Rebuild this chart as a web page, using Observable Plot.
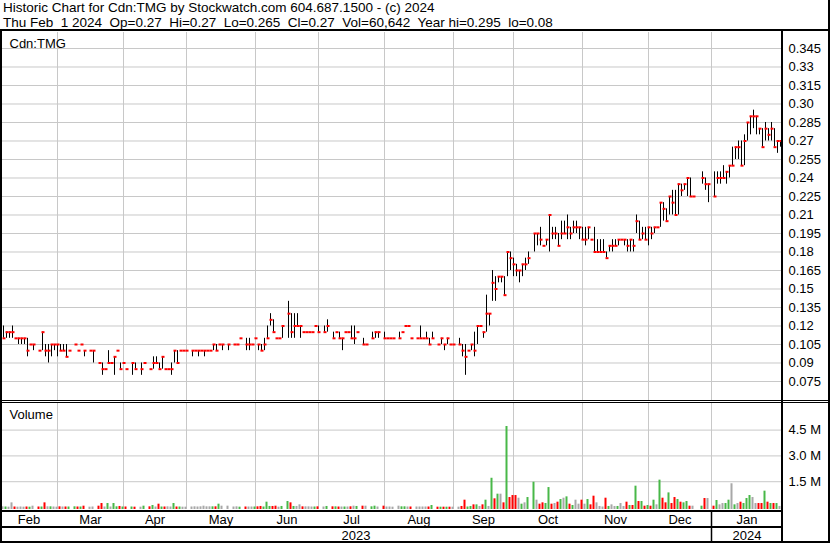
<!DOCTYPE html>
<html><head><meta charset="utf-8">
<script src="https://cdn.jsdelivr.net/npm/d3@7"></script>
<script src="https://cdn.jsdelivr.net/npm/@observablehq/plot@0.6"></script>
<style>
body{margin:0;background:#fff;}
#chart{position:relative;width:830px;height:543px;background:#fff;font-family:"Liberation Sans",Arial,sans-serif;color:#000;overflow:hidden;}
.hdr{position:absolute;left:3px;font-size:13.5px;line-height:15px;white-space:pre;}
.ln{position:absolute;background:#000;}
.panel{position:absolute;left:0;}
</style></head><body><div id="chart">
<div class="hdr" style="top:0px">Historic Chart for Cdn:TMG by Stockwatch.com 604.687.1500 - (c) 2024</div>
<div class="hdr" style="top:15px">Thu Feb  1 2024  Op=0.27  Hi=0.27  Lo=0.265  Cl=0.27  Vol=60,642  Year hi=0.295  lo=0.08</div>
</div>
<script>
// one entry per weekday, index 0 = Wed Feb 1 2023 ... index 261 = Thu Feb 1 2024 (null = no trade)
const high = [
 null,null,.12,.115,.115,.12,.11,.11,.11,.11,.11,.105,.105,null,.10,.115,.105,.105,.105,.105,
 .105,.105,.105,.105,.10,null,.105,.10,.105,.10,null,.10,.10,null,.09,.09,.085,.10,.09,.095,.10,.09,.09,
 .085,null,.09,.09,null,.09,.09,null,.085,.095,.095,.09,.095,.085,.085,.09,.10,.10,.10,.10,
 .10,null,.10,.10,.10,.10,.10,.10,.10,.105,.105,.105,.105,null,.105,null,.105,.105,.11,null,.11,.11,.105,
 .11,.105,.105,.11,.12,.13,.125,.11,.11,.12,null,.14,.13,.13,.13,.12,.115,.115,.115,.115,.12,.12,
 null,.12,.125,null,.115,.115,.115,.11,.115,.115,.12,.12,.115,null,.11,.105,null,.115,.115,.115,null,
 .115,.11,.11,.11,null,.115,.115,.12,.12,.11,null,.11,.12,.11,.115,.11,.115,null,.105,.11,.105,.11,.105,
 .105,null,.11,.105,.105,.10,.105,.115,.12,.12,.115,.145,.13,.165,.16,.16,.16,.16,.18,.18,.175,
 .17,.165,.17,.175,.18,null,.195,.195,.20,.185,.19,.21,.20,.20,.195,.205,.205,.21,.20,.205,.205,.20,
 .20,.20,.20,.19,.20,.19,.19,.19,.18,.185,.19,.19,.19,.19,.19,.19,.19,.19,.21,.205,.20,.20,
 .20,.20,.20,.20,.22,.22,.215,.225,.23,.23,.235,.235,.235,.24,.24,.225,null,null,.245,.24,.235,
 null,.245,.245,.245,.25,.245,.25,.265,.265,.27,.27,.275,.285,.29,.295,.29,.28,.28,.285,.28,.285,.28,.27,.27
];
const low = [
 null,null,.11,.11,.11,.11,.11,.105,.105,.105,.095,.105,.10,null,.10,.10,.095,.09,.095,.10,
 .095,.10,.10,.095,.10,null,.105,.10,.105,.095,null,.10,.09,null,.09,.08,.085,.09,.09,.08,.10,.085,.09,
 .085,null,.08,.085,null,.08,.09,null,.085,.085,.09,.085,.085,.085,.085,.08,.09,.09,.10,.10,
 .10,null,.095,.10,.095,.10,.095,.10,.10,.10,.10,.105,.10,null,.10,null,.105,.105,.11,null,.10,.10,.105,
 .11,.10,.10,.10,.11,.12,.115,.11,.11,.11,null,.11,.11,.11,.12,.11,.115,.115,.115,.115,.12,.115,
 null,.115,.115,null,.11,.115,.11,.10,.115,.115,.11,.105,.115,null,.105,.105,null,.11,.11,.11,null,
 .11,.11,.11,.11,null,.11,.115,.12,.12,.11,null,.11,.11,.11,.11,.105,.11,null,.105,.105,.10,.105,.105,
 .105,null,.105,.095,.08,.10,.10,.095,.105,.12,.11,.115,.12,.14,.14,.155,.155,.145,.16,.165,.16,
 .16,.155,.16,.165,.17,null,.18,.185,.185,.185,.185,.18,.19,.19,.185,.19,.195,.19,.19,.195,.195,.19,
 .19,.185,.19,.19,.18,.18,.18,.18,.175,.18,.18,.185,.185,.19,.185,.18,.18,.18,.195,.19,.19,.19,
 .185,.19,.195,.20,.20,.205,.205,.21,.21,.21,.21,.225,.23,.225,.225,.225,null,null,.235,.23,.22,
 null,.225,.235,.235,.24,.235,.24,.25,.255,.255,.25,.25,.27,.275,.28,.275,.275,.265,.27,.27,.27,.265,.26,.265
];
const close = [
 null,null,.11,.115,.115,.115,.11,.11,.11,.11,.10,.105,.105,null,.10,.115,.10,.10,.105,.105,
 .105,.10,.10,.095,.10,null,.105,.10,.105,.10,null,.10,.10,null,.09,.085,.085,.09,.09,.095,.10,.085,.09,
 .085,null,.09,.085,null,.085,.09,null,.085,.09,.09,.085,.095,.085,.085,.085,.10,.09,.10,.10,
 .10,null,.10,.10,.10,.10,.10,.10,.10,.105,.10,.105,.105,null,.105,null,.105,.105,.11,null,.105,.105,.105,
 .11,.105,.10,.105,.11,.125,.115,.11,.11,.12,null,.13,.115,.12,.12,.12,.115,.115,.115,.115,.12,.115,
 null,.115,.12,null,.11,.115,.11,.11,.115,.115,.11,.11,.115,null,.105,.105,null,.11,.115,.115,null,
 .11,.11,.11,.11,null,.11,.115,.12,.12,.11,null,.11,.11,.11,.11,.105,.11,null,.105,.11,.105,.11,.105,
 .105,null,.105,.10,.095,.10,.105,.10,.12,.12,.115,.13,.13,.155,.15,.16,.16,.145,.18,.175,.17,
 .165,.165,.17,.17,.175,null,.195,.195,.19,.185,.19,.21,.195,.195,.185,.195,.195,.20,.195,.20,.20,.20,
 .19,.19,.20,.19,.18,.18,.18,.18,.175,.185,.185,.185,.19,.19,.19,.185,.19,.185,.205,.19,.195,.19,
 .20,.195,.20,.20,.22,.215,.205,.225,.22,.21,.235,.23,.235,.24,.225,.225,null,null,.24,.235,.235,
 null,.225,.24,.24,.24,.245,.25,.25,.265,.265,.25,.27,.285,.29,.29,.29,.28,.265,.28,.275,.28,.265,.27,.27
];
// volume in thousands of shares
const volumeK = [
 null,null,40,30,20,270,30,20,30,20,30,20,77,null,30,30,270,40,40,30,
 20,40,30,30,30,null,40,30,30,77,null,20,30,null,77,232,30,232,30,232,40,60,30,
 30,null,30,20,null,20,77,null,40,116,30,193,30,30,40,30,232,30,30,20,
 20,null,30,40,30,40,77,40,40,40,40,193,77,null,77,null,30,40,20,null,30,30,30,
 30,40,60,30,310,60,60,77,20,60,null,348,271,60,60,155,40,40,40,30,30,40,
 null,30,60,null,40,40,30,30,30,30,40,77,60,null,77,77,null,40,77,30,null,
 77,30,30,20,null,77,40,40,30,30,null,30,30,30,30,30,116,null,20,20,20,20,20,
 20,null,20,60,426,30,60,155,155,60,155,426,60,1700,505,775,775,271,4710,580,696,
 696,541,193,271,580,null,1470,426,193,271,232,1160,193,232,310,464,541,619,193,116,426,193,
 426,193,464,155,658,271,60,30,541,60,155,60,60,232,60,310,116,116,1240,348,348,77,
 116,77,426,155,1590,541,271,850,232,580,464,310,271,348,77,77,null,null,77,523,523,
 null,77,407,155,232,232,426,1380,155,232,310,232,523,698,581,232,232,232,950,310,232,232,232,61
];
const monthStartIdx = [20, 42, 63, 86, 107, 129, 152, 172, 195, 217, 238];
const monthNames = ["Feb","Mar","Apr","May","Jun","Jul","Aug","Sep","Oct","Nov","Dec","Jan"];
const yearStartIdx = [238];
const yearNames = ["2023","2024"];
const priceTicks = [0.075,0.09,0.105,0.12,0.135,0.15,0.165,0.18,0.195,0.21,0.225,0.24,0.255,0.27,0.285,0.30,0.315,0.33,0.345];
const priceTickLabels = ["0.075","0.09","0.105","0.12","0.135","0.15","0.165","0.18","0.195","0.21","0.225","0.24","0.255","0.27","0.285","0.30","0.315","0.33","0.345"];
const volTicks = [1500000, 3000000, 4500000];
const volTickLabels = ["1.5 M","3.0 M","4.5 M"];

const FONT = '"Liberation Sans", Arial, sans-serif';
const GRID = "#c8c8c8";
const xDomain = [1, 1 + 782/3];

const bars = [];
let prev = null;
for (let i = 0; i < close.length; i++) {
  if (close[i] == null) continue;
  const dir = prev == null ? 0 : Math.sign(Math.round((close[i] - prev) * 1000));
  bars.push({i, high: high[i], low: low[i], close: close[i], volume: volumeK[i] * 1000, dir});
  prev = close[i];
}
const dirColor = {"-1": "#ff0000", "0": "#a8a8a8", "1": "#48b848"};

const chart = document.getElementById("chart");
function place(svg, top) {
  const d = document.createElement("div");
  d.className = "panel"; d.style.top = top + "px";
  d.appendChild(svg); chart.appendChild(d);
}
function line(l, t, w, h) {
  const d = document.createElement("div");
  d.className = "ln";
  Object.assign(d.style, {left: l + "px", top: t + "px", width: w + "px", height: h + "px"});
  chart.appendChild(d);
}

const priceChart = Plot.plot({
  width: 830, height: 368, marginLeft: 0, marginRight: 48, marginTop: 0, marginBottom: 0,
  style: {background: "transparent", fontFamily: FONT, fontSize: "13px", color: "#000", overflow: "visible"},
  x: {domain: xDomain, axis: null},
  y: {domain: [0.05959, 0.35797], label: null},
  marks: [
    Plot.ruleY(priceTicks, {stroke: GRID}),
    Plot.ruleX(monthStartIdx, {stroke: GRID}),
    Plot.axisY(priceTicks, {anchor: "right", tickSize: 0, tickPadding: 6, label: null, fontSize: 13,
      tickFormat: d => priceTickLabels[priceTicks.indexOf(d)]}),
    Plot.ruleX(bars.filter(d => d.high > d.low), {x: "i", y1: "low", y2: "high", stroke: "#000", strokeWidth: 1}),
    Plot.ruleY(bars, {y: "close", x1: d => d.i - 1/6, x2: d => d.i + 5/6, stroke: "#ff0000", strokeWidth: 2}),
    Plot.text(["Cdn:TMG"], {frameAnchor: "top-left", lineAnchor: "bottom", dx: 9, dy: 15, fontSize: 13, fill: "#000"})
  ]
});

const volMin = -116000;
const volumeChart = Plot.plot({
  width: 830, height: 106, marginLeft: 0, marginRight: 48, marginTop: 0, marginBottom: 0,
  style: {background: "transparent", fontFamily: FONT, fontSize: "13px", color: "#000", overflow: "visible"},
  x: {domain: xDomain, axis: null},
  y: {domain: [volMin, 6047000], label: null},
  marks: [
    Plot.ruleY(volTicks, {stroke: GRID}),
    Plot.ruleX(monthStartIdx, {stroke: GRID}),
    Plot.axisY(volTicks, {anchor: "right", tickSize: 0, tickPadding: 6, label: null, fontSize: 13,
      tickFormat: d => volTickLabels[volTicks.indexOf(d)]}),
    Plot.rectY(bars.filter(d => d.volume > 0), {x1: d => d.i - 0.5, x2: d => d.i + 1/6, y1: volMin, y2: "volume",
      fill: d => dirColor[d.dir], inset: 0}),
    Plot.text(["Volume"], {frameAnchor: "top-left", lineAnchor: "bottom", dx: 9, dy: 15, fontSize: 13, fill: "#000"})
  ]
});

const bounds = [xDomain[0], ...monthStartIdx, xDomain[1]];
const monthLabelData = monthNames.map((m, k) => ({label: m, pos: (bounds[k] + bounds[k + 1]) / 2, row: "month"}));
const ybounds = [xDomain[0], ...yearStartIdx, xDomain[1]];
const yearLabelData = yearNames.map((y, k) => ({label: y, pos: (ybounds[k] + ybounds[k + 1]) / 2, row: "year"}));

const axisChart = Plot.plot({
  width: 830, height: 32, marginLeft: 0, marginRight: 48, marginTop: 0, marginBottom: 0,
  style: {background: "transparent", fontFamily: FONT, fontSize: "13px", color: "#000", overflow: "visible"},
  x: {domain: xDomain, axis: null},
  y: {type: "point", domain: ["month", "year"], padding: 0.5, axis: null},
  marks: [
    Plot.ruleX(yearStartIdx, {stroke: "#000", strokeWidth: 1.5}),
    Plot.text(monthLabelData, {x: "pos", y: "row", text: "label", fontSize: 13, fill: "#000"}),
    Plot.text(yearLabelData, {x: "pos", y: "row", text: "label", fontSize: 13, fill: "#000"})
  ]
});

place(priceChart, 32);
place(volumeChart, 403);
place(axisChart, 511);

// frame lines
line(0, 29, 830, 2);      // under header
line(0, 31, 2, 512);      // left border
line(781, 31, 2, 512);    // right of plot area
line(828, 0, 2, 543);     // right border
line(0, 400, 830, 1);     // panel separator (double)
line(0, 402, 830, 1);
line(0, 510, 782, 2);     // under volume
line(0, 526, 782, 1.5);   // between month and year rows
line(0, 541, 830, 2);     // bottom border
</script></body></html>
